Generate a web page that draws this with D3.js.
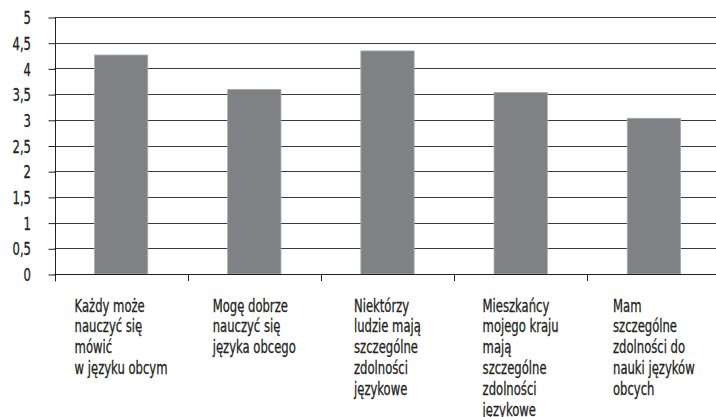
<!DOCTYPE html>
<html>
<head>
<meta charset="utf-8">
<script src="https://cdn.jsdelivr.net/npm/d3@7"></script>
<style>
  html, body { margin: 0; padding: 0; background: #fff; }
  svg { display: block; }
  text { font-family: "DejaVu Sans Condensed", "DejaVu Sans", sans-serif; fill: #231f20; stroke: #231f20; stroke-width: 0.3px; }
</style>
</head>
<body>
<svg id="chart" width="716" height="417"></svg>
<script>
// Category labels, one entry per line of each wrapped label
const categories = [
  ["Każdy może", "nauczyć się", "mówić", "w języku obcym"],
  ["Mogę dobrze", "nauczyć się", "języka obcego"],
  ["Niektórzy", "ludzie mają", "szczególne", "zdolności", "językowe"],
  ["Mieszkańcy", "mojego kraju", "mają", "szczególne", "zdolności", "językowe"],
  ["Mam", "szczególne", "zdolności do", "nauki języków", "obcych"]
];
const values = [4.26, 3.59, 4.34, 3.53, 3.03];
const yTicks = [0, 0.5, 1, 1.5, 2, 2.5, 3, 3.5, 4, 4.5, 5];
const yTickLabels = ["0", "0,5", "1", "1,5", "2", "2,5", "3", "3,5", "4", "4,5", "5"];

// Narrow the available condensed face further, horizontally
const squeeze = 0.76;

const svg = d3.select("#chart");
const plot = { left: 54.5, right: 720.5, top: 17, bottom: 274 };

const x = d3.scaleBand()
  .domain(d3.range(categories.length))
  .range([plot.left, plot.right])
  .paddingInner(0.6)
  .paddingOuter(0.3);

const y = d3.scaleLinear().domain([0, 5]).range([plot.bottom, plot.top]);

// Horizontal gridlines
svg.append("g")
  .selectAll("line")
  .data(yTicks)
  .join("line")
  .attr("x1", plot.left)
  .attr("x2", 716)
  .attr("y1", d => Math.round(y(d)) + 0.5)
  .attr("y2", d => Math.round(y(d)) + 0.5)
  .attr("stroke", "#3a3a3a")
  .attr("stroke-width", 1);

// Bars
svg.append("g")
  .selectAll("rect")
  .data(values)
  .join("rect")
  .attr("x", (d, i) => x(i))
  .attr("y", d => y(d))
  .attr("width", x.bandwidth())
  .attr("height", d => y(0) - y(d))
  .attr("fill", "#808184")
  .attr("stroke", "#a8a9ab")
  .attr("stroke-width", 0.8);

// Y axis
const yAxis = d3.axisLeft(y)
  .tickValues(yTicks)
  .tickFormat((d, i) => yTickLabels[i])
  .tickSize(7)
  .tickSizeOuter(0);

const gy = svg.append("g")
  .attr("transform", `translate(${Math.round(plot.left) + 0.5},0.5)`)
  .call(yAxis);
gy.select(".domain").attr("stroke", "#231f20")
  .attr("d", `M0,${plot.top}V${plot.bottom + 7}`);
gy.selectAll(".tick line").attr("stroke", "#231f20");
gy.selectAll(".tick text")
  .attr("font-size", 17)
  .attr("x", 0)
  .attr("dy", "0.36em")
  .attr("text-anchor", "end")
  .attr("transform", `translate(-24.5,0) scale(${squeeze},1)`)
  .style("font-family", null);

// X axis: category boundary ticks below the baseline
const boundaries = d3.range(1, categories.length).map(i => x(i) - x.step() * x.paddingInner() / 2);
svg.append("g")
  .selectAll("line")
  .data(boundaries)
  .join("line")
  .attr("x1", d => Math.round(d) + 0.5)
  .attr("x2", d => Math.round(d) + 0.5)
  .attr("y1", plot.bottom)
  .attr("y2", plot.bottom + 7)
  .attr("stroke", "#231f20");

svg.append("line")
  .attr("x1", plot.left).attr("x2", 716)
  .attr("y1", plot.bottom + 0.5).attr("y2", plot.bottom + 0.5)
  .attr("stroke", "#231f20");

// Wrapped category labels, left-aligned blocks centred under each bar
const labels = svg.append("g")
  .selectAll("text")
  .data(categories)
  .join("text")
  .attr("font-size", 17);

labels.selectAll("tspan")
  .data(d => d)
  .join("tspan")
  .attr("x", 0)
  .attr("dy", (d, i) => i === 0 ? 0 : 21)
  .text(d => d);

labels.each(function(d, i) {
  const t = d3.select(this);
  const w = squeeze * d3.max(t.selectAll("tspan").nodes(), n => n.getComputedTextLength());
  const x0 = x(i) + x.bandwidth() / 2 - w / 2;
  t.attr("transform", `translate(${x0},311.5) scale(${squeeze},1)`);
});
</script>
</body>
</html>
